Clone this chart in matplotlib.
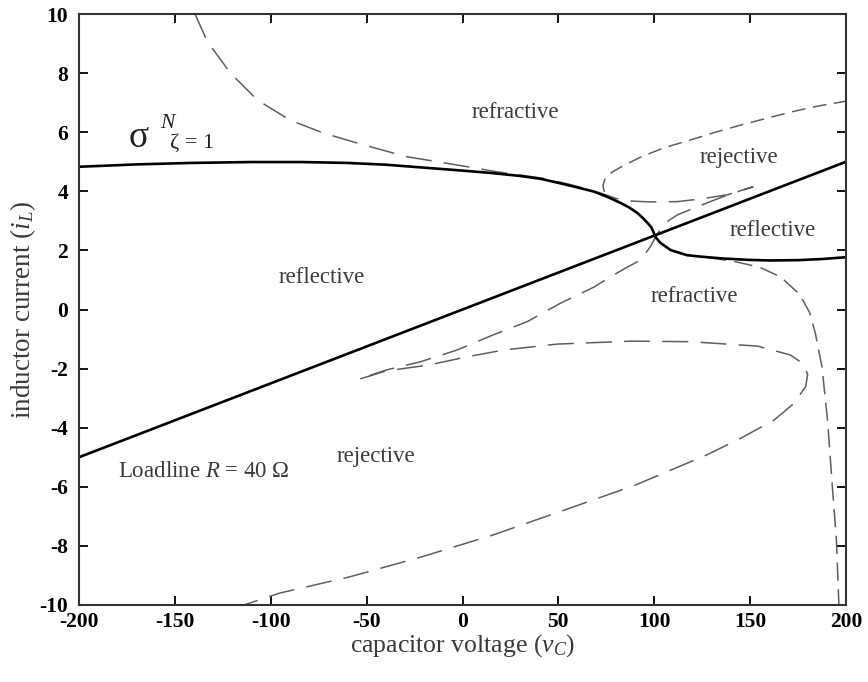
import matplotlib
matplotlib.use("Agg")
import matplotlib.pyplot as plt

plt.rcParams["font.family"] = ["Liberation Serif", "DejaVu Serif"]
plt.rcParams["mathtext.fontset"] = "custom"
plt.rcParams["mathtext.rm"] = "Liberation Serif"
plt.rcParams["mathtext.it"] = "Liberation Serif:italic"
plt.rcParams["axes.unicode_minus"] = False

# ---- data -------------------------------------------------------------
R_LOAD = 40.0                      # ohm
load_v = [-200.0, 200.0]           # capacitor voltage range of the loadline

# sigma^N (zeta = 1) switching surface, upper and lower branches
sig_up_v = [-200, -170, -142, -110, -84, -60, -40, -20, 0, 15, 30, 41, 51,
            60, 68.6, 76, 82.6, 87, 91.3, 94, 96.5, 98.5, 99.8, 100.8]
sig_up_i = [4.83, 4.91, 4.96, 4.99, 4.99, 4.96, 4.90, 4.80, 4.70, 4.62,
            4.52, 4.42, 4.27, 4.13, 3.99, 3.80, 3.60, 3.45, 3.26, 3.10,
            2.93, 2.78, 2.59, 2.44]
sig_lo_v = [100.8, 103.3, 108.6, 117, 124, 135, 149, 160, 175, 188, 200]
sig_lo_i = [2.44, 2.25, 2.01, 1.84, 1.79, 1.73, 1.68, 1.66, 1.67, 1.71, 1.77]

# long-dashed boundary: from the top edge along sigma, loop tip,
# back through the cusp, lower tip, then the large lobe to the bottom
bnd_a_v = [-139.5, -133, -121, -107, -90, -72.5, -51.6, -29, -2.8, 18, 41,
           55, 65, 73, 80, 88, 98, 112, 124, 138, 151.5]
bnd_a_i = [10.0, 9.06, 8.0, 7.09, 6.41, 5.97, 5.57, 5.17, 4.89, 4.66, 4.45,
           4.25, 4.07, 3.92, 3.76, 3.67, 3.64, 3.65, 3.74, 3.88, 4.15]
bnd_c_v = [151.5, 140, 128, 120.6, 112, 105, 100.8, 98, 93, 85, 77, 68.6,
           51, 33.8, 16, -2.8, -22, -40, -54]
bnd_c_i = [4.15, 3.92, 3.62, 3.43, 3.20, 2.90, 2.46, 2.13, 1.68, 1.40, 1.10,
           0.76, 0.21, -0.41, -0.86, -1.37, -1.77, -2.05, -2.36]
lobe_v = [-54, -40, -17.6, 2.4, 21.6, 49.5, 88, 119, 154, 171, 178, 180,
          179, 173, 162.5, 145, 127.4, 90.2, 53, 15.9, -21.3, -58.4, -95.5,
          -114]
lobe_i = [-2.36, -2.08, -1.88, -1.60, -1.37, -1.17, -1.07, -1.09, -1.24,
          -1.54, -1.85, -2.2, -2.6, -3.17, -3.74, -4.36, -4.92, -5.94, -6.79,
          -7.63, -8.37, -9.04, -9.6, -10.0]

# upper-right short-dashed boundary
upper_v = [74, 73.2, 74.5, 78, 84, 93, 105, 119, 132, 145, 158, 171, 185, 200]
upper_i = [3.98, 4.2, 4.45, 4.65, 4.87, 5.16, 5.47, 5.74, 6.0, 6.24, 6.46,
           6.68, 6.88, 7.05]

# right-hand dashed boundary
right_v = [128, 141.5, 155, 166, 176, 181, 184, 187.5, 190.5, 193, 195, 196.3]
right_i = [1.76, 1.63, 1.43, 1.10, 0.50, -0.10, -0.80, -1.95, -3.84, -6.10,
           -7.80, -10.0]

x_ticks = [-200, -150, -100, -50, 0, 50, 100, 150, 200]
y_ticks = [-10, -8, -6, -4, -2, 0, 2, 4, 6, 8, 10]

region_labels = [
    ("refractive", 27.7, 6.65),
    ("rejective", 144, 5.13),
    ("reflective", 162, 2.69),
    ("reflective", -73.6, 1.07),
    ("refractive", 121, 0.43),
    ("rejective", -45, -4.98),
]

# ---- figure -----------------------------------------------------------
fig = plt.figure(figsize=(8.68, 6.82), dpi=100)
ax = fig.add_axes([79 / 868, 1 - 605 / 682, (846 - 79) / 868, (605 - 14) / 682])

dash_col = "#5f5f5f"
long_dash = (0, (17, 8))
med_dash = (0, (12, 5.5))
short_dash = (0, (9, 5))

bnd_v = bnd_a_v + bnd_c_v[1:] + lobe_v[1:]
bnd_i = bnd_a_i + bnd_c_i[1:] + lobe_i[1:]
ax.plot(bnd_v, bnd_i, color=dash_col, lw=1.1, linestyle=long_dash)
ax.plot(upper_v, upper_i, color=dash_col, lw=1.1, linestyle=short_dash)
ax.plot(right_v, right_i, color=dash_col, lw=1.1, linestyle=med_dash)

ax.plot(load_v, [v / R_LOAD for v in load_v], color="black", lw=1.9)
ax.plot(sig_up_v, sig_up_i, color="black", lw=1.9, solid_capstyle="round")
ax.plot(sig_lo_v, sig_lo_i, color="black", lw=1.9, solid_capstyle="round")

txt_col = "#3c3c3c"
for s, xv, yv in region_labels:
    ax.text(xv, yv, s, fontsize=16.5, color=txt_col, ha="center", va="center")

ax.text(-135, -5.49, r"Loadline $R$ = 40 Ω", fontsize=16.5, color=txt_col,
        ha="center", va="center")

# sigma^N_{zeta=1} label
ax.text(-174, 5.5, "σ", fontsize=27, color="#222222", ha="left", va="baseline")
ax.text(-157.7, 6.14, "N", fontsize=15.5, style="italic", color="#222222",
        ha="left", va="baseline")
ax.text(-152.5, 5.47, "ζ = 1", fontsize=16, color="#222222", ha="left",
        va="baseline")

ax.set_xlim(-200, 200)
ax.set_ylim(-10, 10)
ax.set_xticks(x_ticks)
ax.set_yticks(y_ticks)
ax.set_xticklabels([str(t) for t in x_ticks])
ax.set_yticklabels([str(t) for t in y_ticks])
ax.tick_params(direction="in", length=6.5, width=1.3, top=True, right=True,
               labelsize=15.5, colors="black")
ax.tick_params(axis="x", pad=5)
ax.tick_params(axis="y", pad=8)
for lab in ax.get_xticklabels() + ax.get_yticklabels():
    lab.set_fontweight("bold")
for sp in ax.spines.values():
    sp.set_linewidth(1.5)
    sp.set_color("#333333")

ax.set_xlabel(r"capacitor voltage ($v_C$)", fontsize=18.5, color="#3a3a3a",
              labelpad=0)
ax.set_ylabel(r"inductor current ($i_L$)", fontsize=19.5, color="#3a3a3a",
              labelpad=1)

fig.savefig("out.png", dpi=100)
